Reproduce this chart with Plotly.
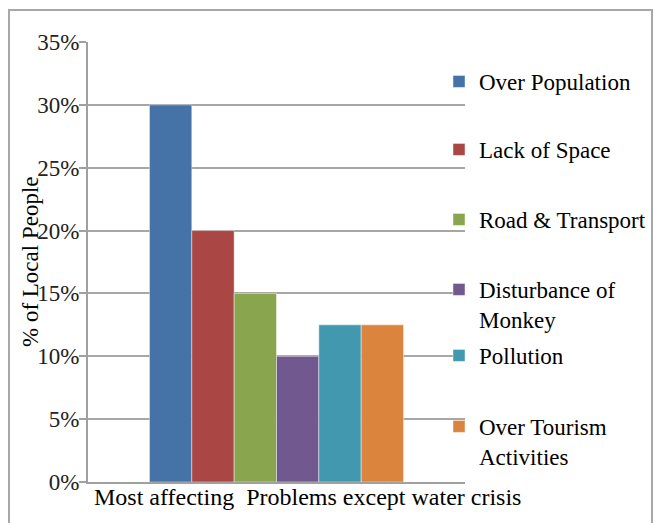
import plotly.graph_objects as go

category = "Most affecting  Problems except water crisis"
series_names = ["Over Population", "Lack of Space", "Road & Transport",
                "Disturbance of<br>Monkey", "Pollution", "Over Tourism<br>Activities"]
series_values = [30, 20, 15, 10, 12.5, 12.5]
colors = ["#4572A7", "#AA4643", "#89A54E", "#71588F", "#4198AF", "#DB843D"]
y_ticks = [0, 5, 10, 15, 20, 25, 30, 35]
y_tick_labels = ["0%", "5%", "10%", "15%", "20%", "25%", "30%", "35%"]
y_title = "% of Local People"

FONT = "Liberation Serif, Times New Roman, serif"
FS = 23
W, H = 654, 523
L, R, T, B = 88, 189, 42, 41
pw, ph = W - L - R, H - T - B

def px_x(p):
    return (p - L) / pw

def px_y(p):
    return (H - B - p) / ph

legend_y_px = [82, 150, 220, 290, 356, 427]

fig = go.Figure()
for i, (name, val, col) in enumerate(zip(series_names, series_values, colors)):
    lg = "legend" if i == 0 else f"legend{i+1}"
    fig.add_trace(go.Bar(
        x=[category], y=[val], name=name,
        marker=dict(color=col, line=dict(color="rgba(255,255,255,0.45)", width=1)),
        legend=lg,
    ))

layout = dict(
    template="none",
    width=W, height=H,
    margin=dict(l=L, r=R, t=T, b=B, autoexpand=False),
    paper_bgcolor="white", plot_bgcolor="white",
    barmode="group", bargap=0.326, bargroupgap=0,
    font=dict(family=FONT, size=FS, color="black"),
    xaxis=dict(showticklabels=False, showgrid=False, showline=True,
               linecolor="#a0a0a0", linewidth=2, ticks="", zeroline=False),
    yaxis=dict(range=[0, 35], tickvals=y_ticks, ticktext=y_tick_labels,
               showgrid=True, gridcolor="#a6a6a6", gridwidth=1.5,
               showline=True, linecolor="#a0a0a0", linewidth=2,
               ticks="outside", ticklen=7, tickcolor="#a0a0a0", tickwidth=1.5,
               ticklabelstandoff=-5,
               zeroline=False,
               tickfont=dict(family=FONT, size=FS, color="#222")),
    showlegend=True,
)

for i, ypx in enumerate(legend_y_px):
    key = "legend" if i == 0 else f"legend{i+1}"
    layout[key] = dict(
        x=px_x(439), xanchor="left",
        y=px_y(ypx - 22), yanchor="top",
        valign="top",
        bgcolor="rgba(0,0,0,0)",
        font=dict(family=FONT, size=FS, color="black"),
        itemclick=False, itemdoubleclick=False,
    )

fig.update_layout(**layout)

fig.add_annotation(
    text=y_title, xref="paper", yref="paper",
    x=px_x(30), y=0.5, xanchor="center", yanchor="middle", textangle=-90,
    showarrow=False, font=dict(family=FONT, size=FS, color="black"),
)

fig.add_annotation(
    text=category, xref="paper", yref="paper",
    x=px_x(307), y=px_y(482), xanchor="center", yanchor="top",
    showarrow=False, font=dict(family=FONT, size=24, color="black"),
)

fig.add_shape(type="rect", xref="paper", yref="paper",
              x0=px_x(9), x1=px_x(652), y0=px_y(540), y1=px_y(10),
              line=dict(color="#a8a8a8", width=2), fillcolor="rgba(0,0,0,0)",
              layer="below")

fig.write_html("out.html", config={"displayModeBar": False},
               post_script="document.body.style.margin='0';document.body.style.overflow='hidden';")
